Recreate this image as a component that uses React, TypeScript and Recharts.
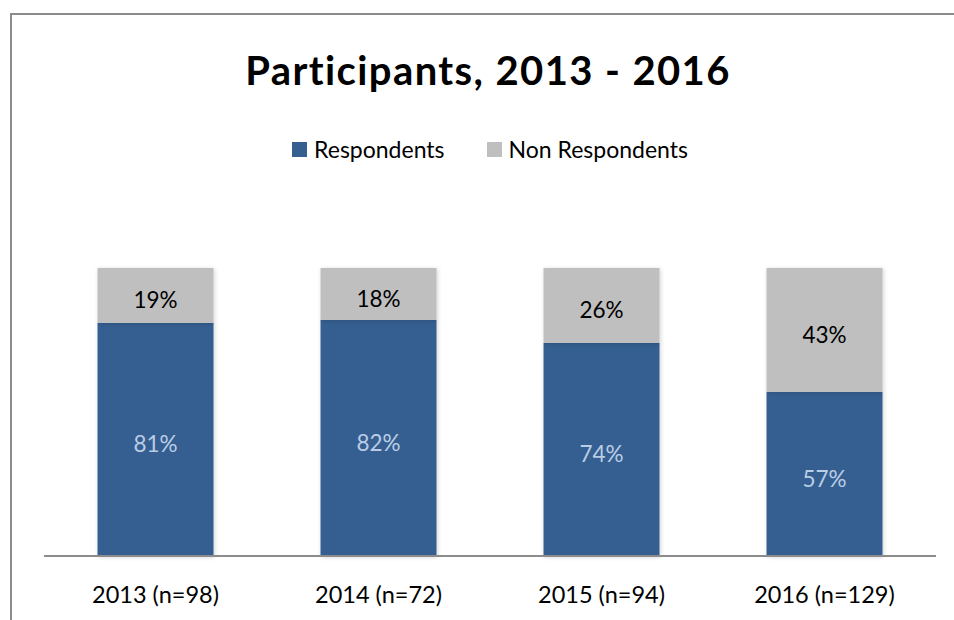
import { BarChart, Bar, XAxis, YAxis, LabelList, Legend } from 'recharts'

const categories = ['2013 (n=98)', '2014 (n=72)', '2015 (n=94)', '2016 (n=129)']
const respondents = [81, 82, 74, 57]
const nonRespondents = [19, 18, 26, 43]
const seriesOrder = ['Respondents', 'Non Respondents']

const data = categories.map((name, i) => ({
  name,
  respondents: respondents[i],
  nonRespondents: nonRespondents[i],
}))

const BLUE = '#365f91'
const GRAY = '#bfbfbf'
const FONT = 'Lato, "Open Sans", sans-serif'

const pct = (v: any) => `${v}%`

function LegendContent({ payload }: any) {
  const items = [...(payload || [])].sort(
    (a: any, b: any) => seriesOrder.indexOf(a.value) - seriesOrder.indexOf(b.value)
  )
  return (
    <div style={{ display: 'flex', justifyContent: 'center', fontFamily: FONT, fontSize: 23, color: '#000' }}>
      {items.map((p: any, i: number) => (
        <div key={p.value} style={{ display: 'flex', alignItems: 'center', marginLeft: i ? 42 : 0 }}>
          <span style={{ display: 'inline-block', width: 15, height: 15, background: p.color, marginRight: 7 }} />
          <span>{p.value}</span>
        </div>
      ))}
    </div>
  )
}

export default function App() {
  return (
    // fixed to the viewport so nothing overflows the page and no scrollbars show
    <div style={{ position: 'fixed', left: 0, top: 0, width: 954, height: 620, overflow: 'hidden', background: '#fff' }}>
      <div
        style={{
          position: 'absolute',
          left: 10,
          top: 13,
          width: 1000,
          height: 700,
          borderTop: '2px solid #8c8c8c',
          borderLeft: '2px solid #8c8c8c',
        }}
      />
      <div style={{ position: 'absolute', left: 8, top: 8 }}>
        <BarChart
          width={946}
          height={612}
          data={data}
          margin={{ top: 260, right: 18, bottom: 14, left: 36 }}
          barCategoryGap="24%"
        >
          <defs>
            <filter id="barShadow" x="-20%" y="-20%" width="140%" height="140%">
              <feDropShadow dx="1" dy="1" stdDeviation="2" floodColor="#000" floodOpacity="0.18" />
            </filter>
          </defs>
          <text x={480} y={77} textAnchor="middle" fontFamily={FONT} fontWeight={700} fontSize={40} letterSpacing={1.4} fill="#000">
            Participants, 2013 - 2016
          </text>
          <XAxis
            dataKey="name"
            height={50}
            tickLine={false}
            axisLine={{ stroke: '#8c8c8c', strokeWidth: 2 }}
            tick={{ fill: '#000', fontSize: 23.5, fontFamily: FONT }}
            tickMargin={24}
            interval={0}
          />
          <YAxis hide domain={[0, 100]} />
          <Legend
            verticalAlign="middle"
            content={<LegendContent />}
            wrapperStyle={{ top: 127 }}
          />
          <Bar dataKey="respondents" name="Respondents" stackId="a" fill={BLUE} filter="url(#barShadow)" isAnimationActive={false}>
            <LabelList dataKey="respondents" position="center" formatter={pct} fill="#b9cde5" fontSize={22.5} fontFamily={FONT} dy={5} />
          </Bar>
          <Bar dataKey="nonRespondents" name="Non Respondents" stackId="a" fill={GRAY} filter="url(#barShadow)" isAnimationActive={false}>
            <LabelList dataKey="nonRespondents" position="center" formatter={pct} fill="#000" fontSize={22.5} fontFamily={FONT} dy={5} />
          </Bar>
        </BarChart>
      </div>
    </div>
  )
}
